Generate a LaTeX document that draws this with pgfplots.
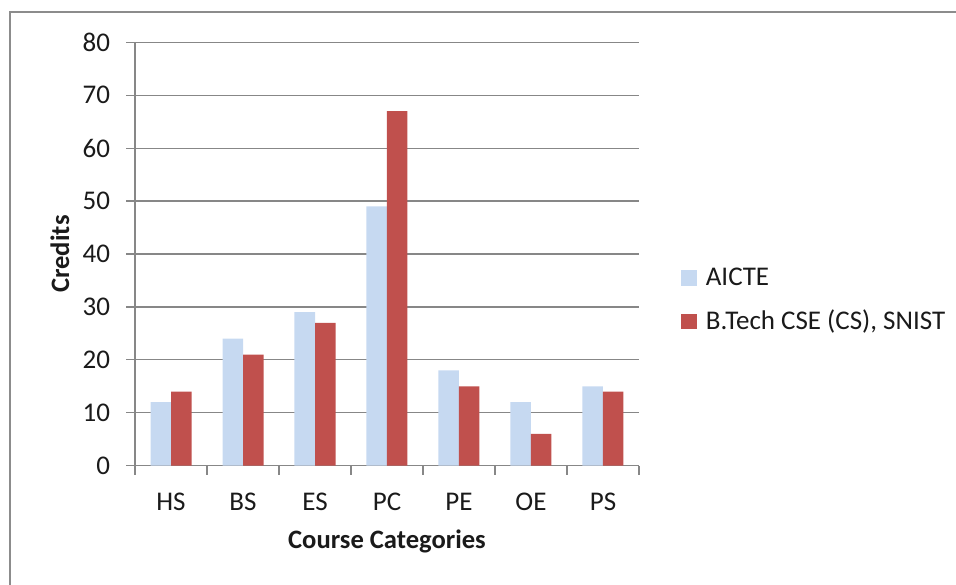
\documentclass[border=0pt]{standalone}
\usepackage{pgfplots}
\pgfplotsset{compat=1.18}
\usepackage{fontspec}
\setmainfont{Carlito}
\definecolor{aicte}{HTML}{C6D9F1}
\definecolor{snist}{HTML}{C0504D}
\definecolor{gridc}{HTML}{878787}
\definecolor{framec}{HTML}{8C8C8C}
\definecolor{txt}{HTML}{1A1A1A}
\begin{document}
\begin{tikzpicture}
\useasboundingbox (0pt,0pt) rectangle (478pt,-292pt);
\draw[framec, line width=1pt] (4.75pt,-320pt) -- (4.75pt,-6.15pt) -- (520pt,-6.15pt);
\begin{axis}[
  at={(67.5pt,-232.85pt)}, anchor=south west,
  scale only axis, width=252pt, height=211.7pt,
  ybar=0pt, bar width=10.25pt,
  xmin=-0.5, xmax=6.5, ymin=0, ymax=80,
  xtick={-0.5,0.5,...,6.5},
  xticklabels={},
  extra x ticks={0,1,2,3,4,5,6},
  extra x tick labels={HS,BS,ES,PC,PE,OE,PS},
  extra x tick style={major tick length=0pt, xticklabel style={yshift=-10pt}},
  ytick={0,10,...,80},
  axis lines*=left,
  tick align=outside,
  major tick length=4.5pt,
  tick style={gridc, line width=0.6pt},
  axis line style={gridc, line width=0.6pt},
  ymajorgrids, grid style={gridc, line width=0.6pt},
  /pgf/number format/assume math mode=true,
  tick label style={font=\fontsize{13.5}{16}\selectfont, text=txt},
  yticklabel style={xshift=-4.5pt},
  xlabel={\bfseries Course Categories},
  ylabel={\bfseries Credits},
  label style={font=\fontsize{13.3}{16}\selectfont, text=txt},
  xlabel style={at={(axis description cs:0.5,-0.1795)}, anchor=center},
  ylabel style={at={(axis description cs:-0.1488,0.5)}, anchor=center},
  legend style={draw=none, at={(axis description cs:1.083,0.391)}, anchor=west,
    font=\fontsize{13.5}{16}\selectfont, text=txt, row sep=7pt, column sep=2.5pt,
    inner sep=0pt, cells={anchor=west}},
  legend image code/.code={\fill[#1] (0pt,-3.9pt) rectangle (7.8pt,3.9pt);},
]
\addplot[fill=aicte, draw=none] coordinates {(0,12) (1,24) (2,29) (3,49) (4,18) (5,12) (6,15)};
\addplot[fill=snist, draw=none] coordinates {(0,14) (1,21) (2,27) (3,67) (4,15) (5,6) (6,14)};
\legend{AICTE, {B.Tech CSE (CS), SNIST}}
\end{axis}
\end{tikzpicture}
\end{document}
